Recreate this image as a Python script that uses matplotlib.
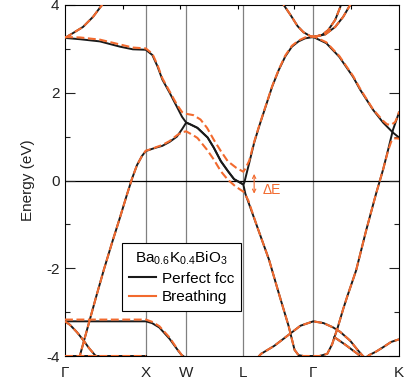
import matplotlib.pyplot as plt
from matplotlib.lines import Line2D

plt.rcParams['font.family'] = ['Liberation Sans', 'DejaVu Sans']
plt.rcParams['mathtext.default'] = 'regular'
plt.rcParams['axes.unicode_minus'] = False

# fcc path G-X-W-L-G-K (units of 2pi/a)
k_sym = [0.0, 1.0, 1.5, 2.2071, 3.0731, 4.1338]
k_names = ['Γ', 'X', 'W', 'L', 'Γ', 'K']
top_ticks = [0.718, 1.423, 2.141, 2.834, 3.54]

# ---- perfect fcc bands ----
fcc_a_k = [0.17, 0.186, 0.285, 0.384, 0.483, 0.582, 0.681, 0.767, 0.829, 0.891, 0.953, 1.0,
           1.077, 1.128, 1.205, 1.295, 1.385, 1.449, 1.5,
           1.55, 1.639, 1.765, 1.841, 1.929, 2.018, 2.093, 2.207,
           2.232, 2.378, 2.524, 2.646, 2.768, 2.841, 2.890, 2.95, 3.073,
           3.15, 3.246, 3.307, 3.344, 3.369, 3.406, 3.443, 3.492, 3.603, 3.727, 3.850, 3.937, 3.999, 4.060, 4.134]
fcc_a_e = [-4.1, -3.98, -3.32, -2.66, -2.02, -1.42, -0.84, -0.32, 0.04, 0.35, 0.56, 0.67,
           0.72, 0.75, 0.79, 0.88, 1.0, 1.17, 1.32,
           1.28, 1.20, 0.98, 0.75, 0.44, 0.21, 0.03, -0.09,
           -0.30, -1.05, -1.80, -2.57, -3.32, -3.86, -3.98, -4.0, -4.0,
           -4.0, -3.95, -3.73, -3.52, -3.39, -3.16, -2.93, -2.65, -2.05, -1.14, -0.30, 0.25, 0.70, 1.16, 1.55]

fcc_b_k = [0.0, 0.186, 0.433, 0.681, 0.84, 1.0,
           1.081, 1.145, 1.205, 1.295, 1.385, 1.449, 1.5,
           1.55, 1.639, 1.765, 1.841, 1.929, 2.018, 2.093, 2.207,
           2.219, 2.280, 2.341, 2.402, 2.484, 2.564, 2.646, 2.727, 2.808, 2.890, 2.971, 3.073,
           3.234, 3.394, 3.566, 3.653, 3.813, 3.937, 4.060, 4.134]
fcc_b_e = [3.25, 3.22, 3.17, 3.05, 2.99, 2.98,
           2.86, 2.60, 2.30, 2.00, 1.68, 1.45, 1.32,
           1.28, 1.20, 0.98, 0.75, 0.44, 0.21, 0.03, -0.09,
           -0.05, 0.40, 0.86, 1.23, 1.69, 2.14, 2.52, 2.83, 3.05, 3.17, 3.24, 3.27,
           3.13, 2.82, 2.36, 2.07, 1.61, 1.32, 1.09, 0.98]

gx_up_k = [0.0, 0.099, 0.223, 0.347, 0.458, 0.5]
gx_up_e = [3.25, 3.36, 3.50, 3.73, 4.0, 4.12]
lg_up_k = [2.66, 2.707, 2.792, 2.878, 2.951, 3.036, 3.073]
lg_up_e = [4.15, 4.0, 3.77, 3.52, 3.38, 3.29, 3.27]
gk_up1_k = [3.073, 3.184, 3.258, 3.344, 3.406, 3.44]
gk_up1_e = [3.27, 3.32, 3.43, 3.66, 3.95, 4.15]
gk_up2_k = [3.073, 3.221, 3.344, 3.443, 3.529, 3.56]
gk_up2_e = [3.27, 3.33, 3.50, 3.73, 4.0, 4.12]

fcc_c_k = [0.0, 0.5, 1.0, 1.077, 1.167, 1.295, 1.401, 1.445, 1.5]
fcc_c_e = [-3.21, -3.21, -3.21, -3.25, -3.35, -3.61, -3.88, -3.98, -4.05]
gx_low_k = [0.0, 0.062, 0.149, 0.223, 0.297, 0.371, 0.42]
gx_low_e = [-3.21, -3.29, -3.46, -3.63, -3.82, -3.98, -4.05]
bottom_k = [0.0, 1.0]
bottom_e = [-3.99, -3.99]
hump_k = [2.378, 2.427, 2.589, 2.752, 2.914, 3.073, 3.200, 3.320, 3.406, 3.529, 3.616, 3.677, 3.715]
hump_e = [-4.05, -3.95, -3.77, -3.54, -3.31, -3.21, -3.25, -3.35, -3.45, -3.65, -3.85, -3.98, -4.05]
gk_f_k = [3.333, 3.467, 3.554, 3.628, 3.665]
gk_f_e = [-3.57, -3.74, -3.86, -3.96, -4.05]
gk_g_k = [3.715, 3.764, 3.850, 3.937, 4.036, 4.134]
gk_g_e = [-4.05, -3.98, -3.90, -3.80, -3.68, -3.62]

# ---- breathing distortion: bands that differ from perfect fcc ----
br_a_k = [0.17, 0.186, 0.285, 0.384, 0.483, 0.582, 0.681, 0.767, 0.829, 0.891, 0.953, 1.0,
          1.077, 1.128, 1.205, 1.295, 1.385, 1.449, 1.5,
          1.588, 1.639, 1.758, 1.841, 1.929, 2.014, 2.107, 2.195, 2.207,
          2.268, 2.378, 2.524, 2.646, 2.768, 2.841, 2.890, 2.95, 3.073,
          3.15, 3.246, 3.307, 3.344, 3.369, 3.406, 3.443, 3.492, 3.603, 3.727, 3.850, 3.937, 3.999, 4.036, 4.073, 4.110, 4.134]
br_a_e = [-4.1, -3.98, -3.32, -2.66, -2.02, -1.42, -0.84, -0.32, 0.04, 0.35, 0.56, 0.68,
          0.72, 0.76, 0.81, 0.90, 1.03, 1.10, 1.12,
          1.03, 0.97, 0.70, 0.48, 0.21, 0.02, -0.13, -0.24, -0.25,
          -0.45, -1.05, -1.80, -2.57, -3.32, -3.86, -3.98, -4.0, -4.0,
          -4.0, -3.95, -3.73, -3.52, -3.39, -3.16, -2.93, -2.65, -2.05, -1.14, -0.30, 0.25, 0.68, 0.88, 0.96, 0.96, 0.95]

br_b_k = [0.0, 0.186, 0.433, 0.681, 0.84, 1.0,
          1.081, 1.145, 1.205, 1.295, 1.385, 1.449, 1.5,
          1.588, 1.677, 1.758, 1.841, 1.929, 2.014, 2.119, 2.207,
          2.232, 2.280, 2.341, 2.402, 2.484, 2.564, 2.646, 2.727, 2.808, 2.890, 2.971, 3.073,
          3.234, 3.394, 3.566, 3.653, 3.813, 3.937, 3.986, 4.036, 4.085, 4.122, 4.134]
br_b_e = [3.27, 3.26, 3.21, 3.10, 3.03, 3.01,
          2.89, 2.63, 2.33, 2.03, 1.73, 1.56, 1.52,
          1.49, 1.39, 1.20, 0.93, 0.67, 0.44, 0.29, 0.20,
          0.27, 0.45, 0.88, 1.24, 1.70, 2.15, 2.53, 2.85, 3.07, 3.19, 3.26, 3.29,
          3.15, 2.84, 2.38, 2.09, 1.62, 1.36, 1.28, 1.27, 1.33, 1.48, 1.57]

br_c_k = fcc_c_k
br_c_e = [-3.17, -3.17, -3.17, -3.22, -3.32, -3.58, -3.87, -3.98, -4.05]

black = '#1a1a1a'
orange = '#F26A2E'

fig = plt.figure(figsize=(4.12, 3.88), dpi=100)
ax = fig.add_axes([65 / 412, 32 / 388, 334 / 412, 351 / 388])

for k in k_sym[1:-1]:
    ax.axvline(k, color='#808080', lw=0.9, zorder=1)
ax.axhline(0, color='k', lw=0.9, zorder=1)

shared = [(gx_up_k, gx_up_e), (lg_up_k, lg_up_e), (gk_up1_k, gk_up1_e), (gk_up2_k, gk_up2_e),
          (gx_low_k, gx_low_e), (bottom_k, bottom_e), (hump_k, hump_e),
          (gk_f_k, gk_f_e), (gk_g_k, gk_g_e)]

perfect = [(fcc_a_k, fcc_a_e), (fcc_b_k, fcc_b_e), (fcc_c_k, fcc_c_e)] + shared
breathing = [(br_a_k, br_a_e), (br_b_k, br_b_e), (br_c_k, br_c_e)] + shared

for k, e in perfect:
    ax.plot(k, e, color=black, lw=1.4, zorder=2, solid_joinstyle='round')
for k, e in breathing:
    ax.plot(k, e, color=orange, lw=1.5, dashes=(3.8, 1.7), zorder=3)

# gap at L
ax.annotate('', xy=(2.341, 0.15), xytext=(2.341, -0.30),
            arrowprops=dict(arrowstyle='<->', color=orange, lw=0.8, mutation_scale=6,
                            shrinkA=0, shrinkB=0))
ax.text(2.45, -0.22, 'ΔE', color=orange, fontsize=10, va='center', ha='left')

ax.set_xlim(k_sym[0], k_sym[-1])
ax.set_ylim(-4, 4)
ax.set_xticks(k_sym, k_names)
ax.set_xticks(top_ticks, minor=True)
ax.set_yticks([-4, -2, 0, 2, 4])
ax.set_yticks([-3, -1, 1, 3], minor=True)
ax.tick_params(axis='x', which='major', length=0, pad=7, labelsize=11, colors='#222222')
ax.tick_params(axis='x', which='minor', bottom=False, top=True, direction='in', length=3, width=0.8)
ax.tick_params(axis='y', which='both', left=True, right=True, direction='in', width=0.8,
               labelsize=11, colors='#222222', pad=4)
ax.tick_params(axis='y', which='major', length=7)
ax.tick_params(axis='y', which='minor', length=3.5)
for s in ax.spines.values():
    s.set_linewidth(0.8)

ax.set_ylabel('Energy (eV)', fontsize=11, labelpad=8, color='#222222')

handles = [Line2D([], [], color=black, lw=1.5), Line2D([], [], color=orange, lw=1.5)]
leg = ax.legend(handles, ['Perfect fcc', 'Breathing'], title='Ba$_{0.6}$K$_{0.4}$BiO$_3$',
                loc='upper left', bbox_to_anchor=(0.171, 0.322), fontsize=11, title_fontsize=11,
                frameon=True, fancybox=False, framealpha=1, edgecolor='black',
                handlelength=1.75, handletextpad=0.4, borderaxespad=0, borderpad=0.45,
                labelspacing=0.3)
leg.get_frame().set_linewidth(0.8)
leg.set_zorder(5)

fig.savefig('out.png', dpi=100)
